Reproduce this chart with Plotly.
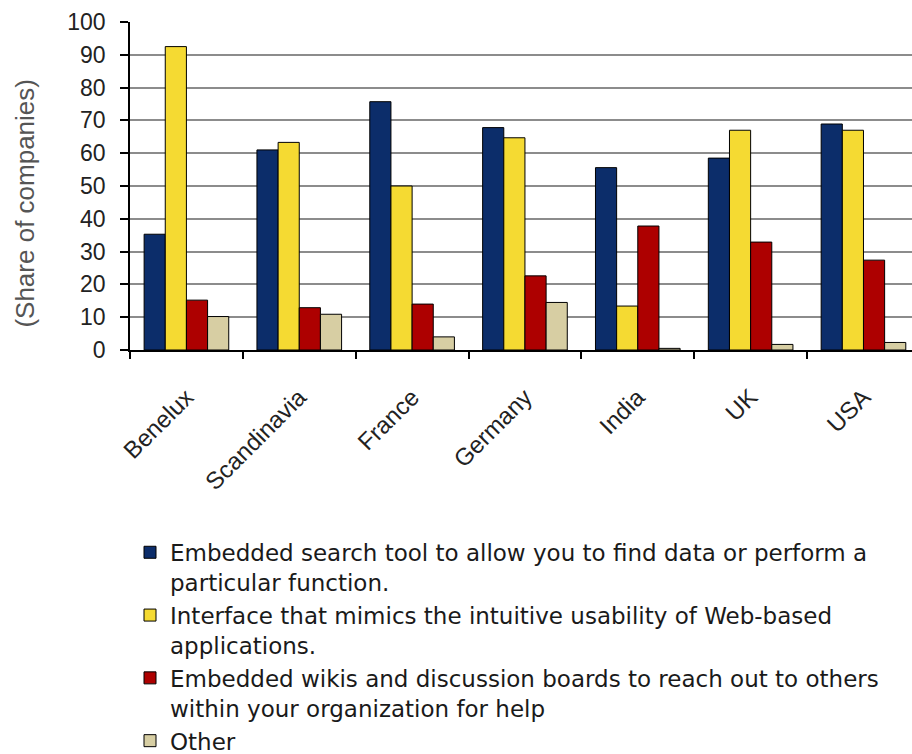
import plotly.graph_objects as go

# Countries / regions surveyed
categories = ["Benelux", "Scandinavia", "France", "Germany", "India", "UK", "USA"]

# Share of companies (%) per feature
search_tool = [35.3, 61.0, 75.7, 67.8, 55.6, 58.5, 68.9]
web_interface = [92.5, 63.3, 50.0, 64.7, 13.4, 67.0, 67.0]
wikis = [15.2, 12.9, 14.0, 22.6, 37.8, 32.9, 27.4]
other = [10.2, 10.9, 4.0, 14.5, 0.5, 1.7, 2.3]

series_names = [
    "Embedded search tool to allow you to find data or perform a<br>particular function.",
    "Interface that mimics the intuitive usability of Web-based<br>applications.",
    "Embedded wikis and discussion boards to reach out to others<br>within your organization for help",
    "Other",
]
series_values = [search_tool, web_interface, wikis, other]
series_colors = ["#0c2d6a", "#f5da32", "#ad0000", "#d7cea3"]

y_ticks = list(range(0, 101, 10))
y_title = "(Share of companies)"

fig = go.Figure()
for name, vals, col in zip(series_names, series_values, series_colors):
    fig.add_trace(go.Bar(
        x=categories, y=vals, name=name,
        marker=dict(color=col, line=dict(color="#000000", width=1)),
    ))

fig.update_layout(
    width=912, height=754, autosize=False,
    margin=dict(l=130, r=0, t=22, b=404, pad=0),
    paper_bgcolor="white", plot_bgcolor="white",
    barmode="group", bargap=0.25, bargroupgap=0,
    font=dict(family="Liberation Sans, Arial, sans-serif", color="#222222"),
    showlegend=True,
    legend=dict(
        orientation="v", x=0, xanchor="left",
        yref="container", y=0.296, yanchor="top",
        valign="top", tracegroupgap=0,
        font=dict(family="DejaVu Sans, sans-serif", size=23, color="#1a1a1a"),
        bgcolor="rgba(0,0,0,0)",
    ),
    annotations=[dict(
        text=y_title, textangle=-90,
        xref="paper", yref="paper", x=-0.134, y=0.447,
        xanchor="center", yanchor="middle", showarrow=False,
        font=dict(size=26, color="#555555"),
    )],
)

fig.update_xaxes(
    type="category", range=[-0.5, 6.43],
    showline=True, linecolor="#000000", linewidth=1.5,
    ticks="outside", tickson="boundaries", ticklen=7, tickcolor="#000000", tickwidth=1.5,
    tickangle=-45, tickfont=dict(size=24, color="#222222"),
    ticklabelstandoff=22,
    showgrid=False, zeroline=False,
)
fig.update_yaxes(
    range=[0, 100], tickvals=y_ticks,
    showline=True, linecolor="#000000", linewidth=1.5,
    ticks="outside", ticklen=8, tickcolor="#000000", tickwidth=1.5,
    tickfont=dict(size=23, color="#222222"),
    ticklabelstandoff=10,
    showgrid=True, gridcolor="#8c8c8c", gridwidth=1.5,
    zeroline=False,
)

fig.write_html("out.html")
